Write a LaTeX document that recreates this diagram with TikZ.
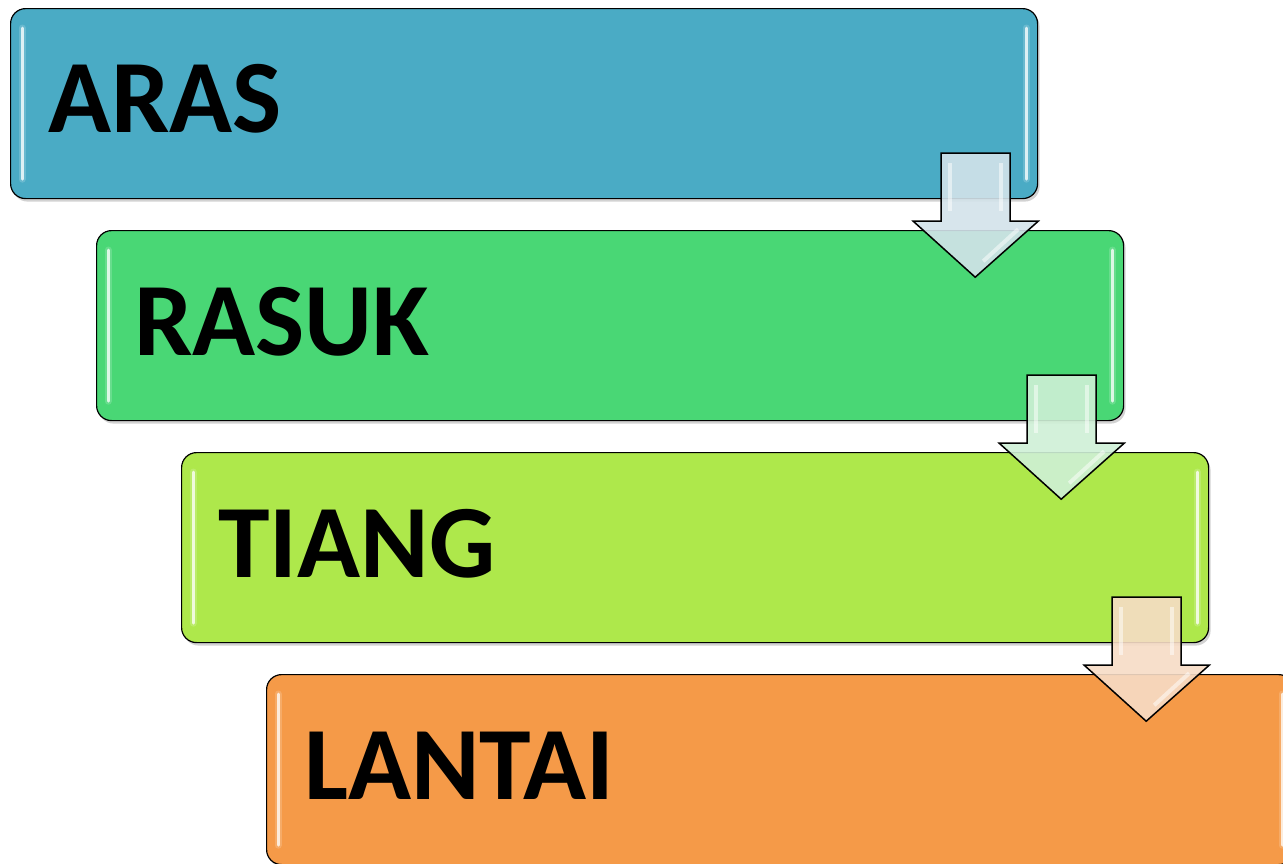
\documentclass[tikz,border=0pt]{standalone}
\usepackage{fontspec}
\setmainfont{Carlito}
\usetikzlibrary{shadows,calc}
\definecolor{cAras}{HTML}{4AABC5}
\definecolor{cRasuk}{HTML}{49D775}
\definecolor{cTiang}{HTML}{AEE84B}
\definecolor{cLantai}{HTML}{F59A48}
\definecolor{aAras}{HTML}{D3E3EA}
\definecolor{aRasuk}{HTML}{CFF0D6}
\definecolor{aTiang}{HTML}{F7DCC6}
\tikzset{
  box/.style={draw=black, line width=1.2pt, rounded corners=15pt, anchor=north west,
    minimum width=1027pt, minimum height=190pt, inner sep=0pt,
    drop shadow={shadow xshift=2pt, shadow yshift=-3pt, opacity=0.35}},
  lbl/.style={anchor=base west, inner sep=0pt, font=\fontsize{104}{110}\selectfont\bfseries},
  blockarrow/.style={draw=black, line width=1.5pt, line join=miter, fill opacity=0.9},
  glosshalo/.style={line width=7pt, line cap=round, draw opacity=0.35},
  gloss/.style={line width=3pt, line cap=round, draw opacity=0.95},
}
\newcommand{\boxgloss}[2]{%
  \draw[glosshalo, white!50!#2] ($(#1.north west)+(12,20)$) -- ($(#1.south west)+(12,-20)$);
  \draw[glosshalo, white!50!#2] ($(#1.north east)+(-12,20)$) -- ($(#1.south east)+(-12,-20)$);
  \draw[gloss, white!85!#2] ($(#1.north west)+(12,20)$) -- ($(#1.south west)+(12,-20)$);
  \draw[gloss, white!85!#2] ($(#1.north east)+(-12,20)$) -- ($(#1.south east)+(-12,-20)$);}
\newcommand{\flowarrow}[3]{% box name, fill colour, arrow name
  \coordinate (#3) at (#1.south east);
  \draw[blockarrow, fill=#2] ($(#3)+(-97,-46)$) -- ($(#3)+(-28,-46)$) -- ($(#3)+(-28,22)$)
    -- ($(#3)+(0,22)$) -- ($(#3)+(-63,78)$) -- ($(#3)+(-125,22)$) -- ($(#3)+(-97,22)$) -- cycle;
  \draw[line width=4pt, white, opacity=0.5] ($(#3)+(-88,-36)$) -- ($(#3)+(-88,12)$);
  \draw[line width=4pt, white, opacity=0.5] ($(#3)+(-37,-36)$) -- ($(#3)+(-37,12)$);
  \draw[line width=4pt, white, opacity=0.5] ($(#3)+(-20,30)$) -- ($(#3)+(-55,62)$);}
\begin{document}
\begin{tikzpicture}[x=1pt, y=-1pt]
\useasboundingbox[fill=white] (0,0) rectangle (1283,863);
\node[box, fill=cAras] (aras) at (10,8) {};
\boxgloss{aras}{cAras}
\node[lbl] (tAras) at (48,132) {ARAS};
\node[box, fill=cRasuk] (rasuk) at (96,230) {};
\boxgloss{rasuk}{cRasuk}
\node[lbl] (tRasuk) at (134,355) {RASUK};
\flowarrow{aras}{aAras}{ar1}
\node[box, fill=cTiang] (tiang) at (181,452) {};
\boxgloss{tiang}{cTiang}
\node[lbl] (tTiang) at (218,577) {TIANG};
\flowarrow{rasuk}{aRasuk}{ar2}
\node[box, fill=cLantai] (lantai) at (266,674) {};
\boxgloss{lantai}{cLantai}
\node[lbl] (tLantai) at (304,799) {LANTAI};
\flowarrow{tiang}{aTiang}{ar3}
\end{tikzpicture}
\end{document}
